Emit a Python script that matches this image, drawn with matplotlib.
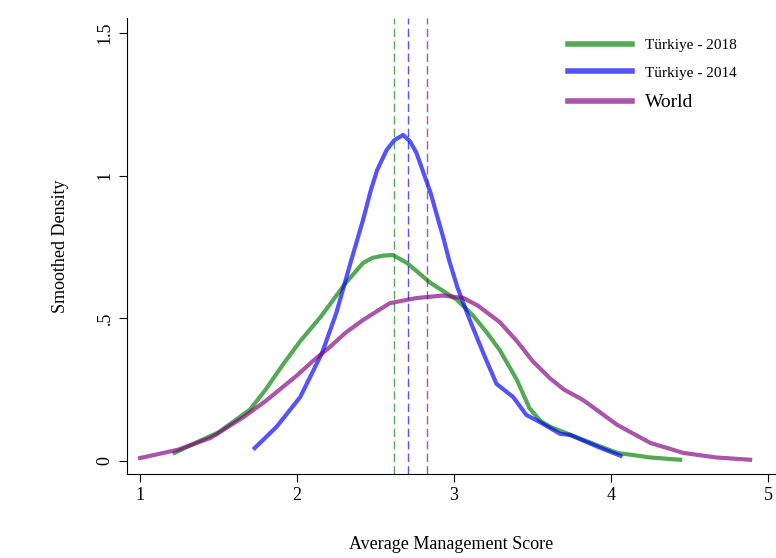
# Libraries
import matplotlib
matplotlib.use("Agg")
import matplotlib.pyplot as plt

plt.rcParams["font.family"] = "Liberation Serif"

# Data
x2018 = [1.22, 1.38, 1.50, 1.60, 1.70, 1.80, 1.90, 2.02, 2.15, 2.31, 2.42, 2.48, 2.55, 2.61, 2.70,
         2.85, 3.02, 3.12, 3.21, 3.29, 3.40, 3.48, 3.55, 3.61, 3.82, 4.04, 4.25, 4.44]
y2018 = [0.028, 0.07, 0.10, 0.14, 0.18, 0.25, 0.33, 0.42, 0.505, 0.624, 0.694, 0.712, 0.72, 0.722, 0.694,
         0.624, 0.564, 0.51, 0.449, 0.389, 0.284, 0.185, 0.14, 0.12, 0.074, 0.028, 0.012, 0.004]

x2014 = [1.73, 1.87, 2.02, 2.16, 2.25, 2.34, 2.42, 2.47, 2.51, 2.57, 2.62, 2.675, 2.72, 2.76,
         2.85, 2.93, 2.97, 3.02, 3.10, 3.185, 3.27, 3.376, 3.46, 3.55, 3.675, 3.74, 3.93, 4.06]
y2014 = [0.045, 0.12, 0.224, 0.38, 0.519, 0.694, 0.845, 0.95, 1.02, 1.09, 1.125, 1.143, 1.12, 1.08,
         0.94, 0.785, 0.70, 0.61, 0.494, 0.379, 0.27, 0.224, 0.161, 0.135, 0.095, 0.091, 0.046, 0.018]

xworld = [1.0, 1.24, 1.45, 1.66, 1.80, 1.90, 2.0, 2.10, 2.21, 2.31, 2.42, 2.59, 2.76, 2.93, 3.06, 3.15,
          3.29, 3.40, 3.50, 3.61, 3.70, 3.82, 3.93, 4.04, 4.25, 4.46, 4.67, 4.885]
yworld = [0.01, 0.039, 0.081, 0.154, 0.21, 0.255, 0.30, 0.35, 0.40, 0.45, 0.494, 0.553, 0.571, 0.58, 0.571, 0.545,
          0.487, 0.42, 0.35, 0.29, 0.25, 0.214, 0.17, 0.126, 0.063, 0.028, 0.012, 0.004]

means = [2.618, 2.707, 2.828]
labels = ["Türkiye - 2018", "Türkiye - 2014", "World"]
colors = ["green", "blue", "purple"]

# Plot
fig = plt.figure(figsize = (7.76, 5.58), dpi = 100)
ax = fig.add_axes([0.1637, 0.1505, 0.8363, 0.8172])

series = [(x2018, y2018), (x2014, y2014), (xworld, yworld)]
for (xs, ys), lab, col in zip(series, labels, colors):
    ax.plot(xs, ys, color = col, alpha = 0.67, linewidth = 3, label = lab,
            solid_joinstyle = "round")

for m, col in zip(means, colors):
    ax.axvline(m, color = col, alpha = 0.67, linewidth = 1, linestyle = (0, (6, 3)))

ax.set_xlim(0.917, 5.05)
ax.set_ylim(-0.046, 1.553)
ax.set_xticks([1, 2, 3, 4, 5])
ax.set_yticks([0, 0.5, 1, 1.5])
ax.set_yticklabels(["0", ".5", "1", "1.5"], rotation = 90, va = "center")
ax.tick_params(labelsize = 13, length = 6, direction = "out")
ax.spines["top"].set_visible(False)
ax.spines["right"].set_visible(False)

ax.set_xlabel("Average Management Score", fontsize = 13, labelpad = 23)
ax.set_ylabel("Smoothed Density", fontsize = 13, labelpad = 20)

leg = ax.legend(loc = "upper right", bbox_to_anchor = (0.96, 0.985), frameon = False,
                fontsize = 11, handlelength = 4.2, labelspacing = 0.9)
for line in leg.get_lines():
    line.set_linewidth(4)
leg.get_texts()[2].set_fontsize(14)

plt.savefig("out.png")
